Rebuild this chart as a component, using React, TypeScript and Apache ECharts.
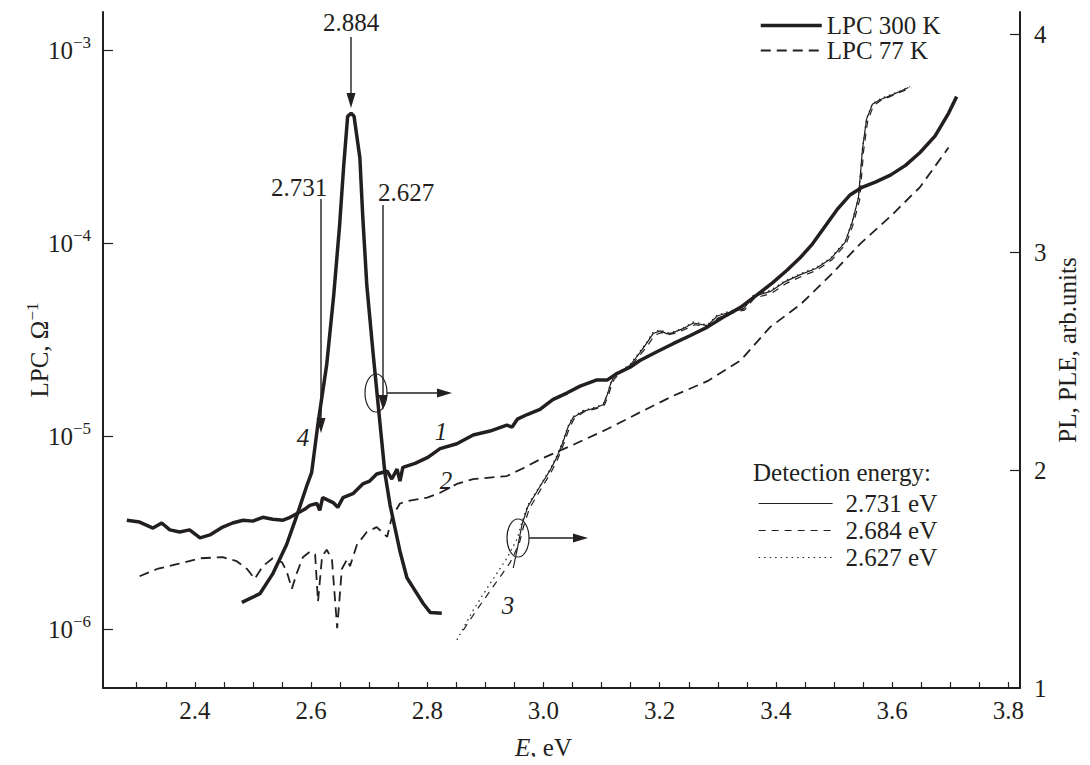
import React, { useEffect, useRef } from "react";
import * as echarts from "echarts";

const FONT = '"Liberation Serif", "Times New Roman", serif';
const INK = "#231f20";
const FS = 25;

// Curve 1: LPC 300 K (left, log axis)
const E_LPC300 = [2.283,2.305,2.328,2.343,2.357,2.374,2.391,2.409,2.426,2.448,2.465,2.483,2.5,2.517,2.534,2.552,2.564,2.576,2.589,2.598,2.61,2.615,2.62,2.638,2.646,2.655,2.672,2.689,2.701,2.713,2.731,2.739,2.748,2.753,2.758,2.779,2.801,2.822,2.851,2.879,2.908,2.937,2.946,2.955,2.973,2.994,3.016,3.041,3.063,3.092,3.11,3.127,3.149,3.166,3.196,3.223,3.252,3.282,3.309,3.339,3.368,3.394,3.419,3.442,3.463,3.485,3.507,3.528,3.549,3.571,3.597,3.623,3.648,3.674,3.697,3.711];
const V_LPC300 = [3.67e-6,3.59e-6,3.34e-6,3.55e-6,3.27e-6,3.19e-6,3.27e-6,2.97e-6,3.08e-6,3.38e-6,3.55e-6,3.67e-6,3.63e-6,3.8e-6,3.71e-6,3.67e-6,3.8e-6,3.98e-6,4.18e-6,4.38e-6,4.48e-6,4.13e-6,4.81e-6,4.53e-6,4.28e-6,4.81e-6,5.04e-6,5.66e-6,5.86e-6,6.37e-6,6.59e-6,6.0e-6,6.75e-6,5.86e-6,6.9e-6,7.24e-6,7.77e-6,8.63e-6,9.14e-6,1.016e-5,1.064e-5,1.142e-5,1.116e-5,1.226e-5,1.3e-5,1.377e-5,1.549e-5,1.68e-5,1.82e-5,1.96e-5,1.96e-5,2.12e-5,2.28e-5,2.47e-5,2.75e-5,3.02e-5,3.32e-5,3.68e-5,4.14e-5,4.66e-5,5.42e-5,6.24e-5,7.26e-5,8.45e-5,9.95e-5,1.23e-4,1.52e-4,1.79e-4,1.96e-4,2.08e-4,2.26e-4,2.54e-4,2.96e-4,3.61e-4,4.73e-4,5.77e-4];

// Curve 2: LPC 77 K (left, log axis)
const E_LPC77 = [2.305,2.335,2.369,2.409,2.448,2.472,2.49,2.503,2.517,2.534,2.55,2.558,2.567,2.576,2.586,2.598,2.607,2.612,2.619,2.627,2.636,2.645,2.653,2.662,2.667,2.679,2.696,2.713,2.731,2.739,2.753,2.77,2.8,2.822,2.851,2.879,2.937,2.965,2.994,3.051,3.11,3.166,3.223,3.282,3.339,3.39,3.442,3.494,3.545,3.597,3.648,3.697];
const V_LPC77 = [1.88e-6,2.05e-6,2.17e-6,2.33e-6,2.36e-6,2.25e-6,2.05e-6,1.82e-6,2.12e-6,2.33e-6,2.22e-6,2.0e-6,1.62e-6,1.97e-6,2.36e-6,2.52e-6,2.44e-6,1.39e-6,2.38e-6,2.58e-6,2.3e-6,1.01e-6,2.05e-6,2.3e-6,2.12e-6,2.74e-6,3.19e-6,3.38e-6,3.01e-6,3.8e-6,4.48e-6,4.64e-6,4.81e-6,5.09e-6,5.66e-6,6.0e-6,6.22e-6,6.83e-6,7.59e-6,9.03e-6,1.09e-5,1.33e-5,1.62e-5,1.93e-5,2.47e-5,3.68e-5,4.82e-5,6.85e-5,9.95e-5,1.38e-4,1.96e-4,3.14e-4];

// Curve 4: PL (right axis)
const E_PL = [2.481,2.512,2.534,2.558,2.576,2.593,2.601,2.612,2.627,2.639,2.649,2.656,2.663,2.669,2.674,2.684,2.689,2.696,2.707,2.717,2.727,2.736,2.753,2.765,2.779,2.793,2.805,2.825];
const V_PL = [1.393,1.433,1.524,1.659,1.795,1.931,1.989,2.215,2.486,2.803,3.119,3.39,3.625,3.639,3.625,3.435,3.164,2.848,2.531,2.26,1.989,1.84,1.628,1.506,1.447,1.388,1.347,1.343];

// Curve 3: PLE for three detection energies (right axis)
const E_PLE_2731 = [2.948,2.955,2.963,2.973,2.994,3.011,3.023,3.034,3.042,3.051,3.068,3.092,3.103,3.11,3.115,3.12,3.132,3.149,3.166,3.178,3.189,3.201,3.213,3.223,3.24,3.258,3.282,3.299,3.326,3.344,3.361,3.39,3.416,3.442,3.468,3.494,3.519,3.531,3.542,3.549,3.556,3.566,3.58,3.597,3.614,3.628];
const V_PLE_2731 = [1.551,1.64,1.75,1.832,1.925,1.998,2.06,2.132,2.196,2.242,2.27,2.288,2.302,2.348,2.392,2.424,2.452,2.482,2.54,2.585,2.628,2.64,2.626,2.632,2.65,2.676,2.664,2.708,2.73,2.74,2.798,2.82,2.866,2.898,2.925,2.97,3.046,3.136,3.25,3.476,3.612,3.68,3.702,3.72,3.74,3.757];
const E_PLE_2684 = [2.862,2.887,2.917,2.942,2.958,2.966,2.976,2.996,3.013,3.025,3.036,3.044,3.053,3.07,3.094,3.105,3.112,3.117,3.122,3.134,3.151,3.168,3.18,3.191,3.203,3.215,3.225,3.242,3.26,3.284,3.301,3.328,3.346,3.363,3.392,3.418,3.444,3.47,3.496,3.521,3.533,3.544,3.551,3.558,3.568,3.582,3.599,3.616,3.633];
const V_PLE_2684 = [1.266,1.366,1.479,1.573,1.66,1.745,1.825,1.915,1.99,2.055,2.128,2.19,2.238,2.268,2.285,2.3,2.345,2.39,2.42,2.45,2.48,2.535,2.575,2.62,2.632,2.622,2.628,2.645,2.668,2.66,2.7,2.725,2.735,2.79,2.812,2.858,2.89,2.918,2.965,3.04,3.13,3.24,3.47,3.605,3.675,3.7,3.718,3.738,3.755];
const E_PLE_2627 = [2.851,2.879,2.908,2.937,2.955,2.963,2.973,2.994,3.011,3.023,3.034,3.042,3.051,3.068,3.092,3.103,3.11,3.115,3.12,3.132,3.149,3.166,3.178,3.189,3.201,3.213,3.223,3.24,3.258,3.282,3.299,3.326,3.344,3.361,3.39,3.416,3.442,3.468,3.494,3.519,3.531,3.542,3.549,3.556,3.566,3.58,3.597,3.614,3.631];
const V_PLE_2627 = [1.221,1.357,1.479,1.596,1.686,1.763,1.84,1.93,2.003,2.066,2.138,2.202,2.247,2.274,2.292,2.305,2.351,2.396,2.427,2.455,2.486,2.545,2.59,2.635,2.644,2.631,2.635,2.653,2.681,2.667,2.712,2.735,2.744,2.803,2.825,2.87,2.902,2.929,2.974,3.051,3.141,3.254,3.48,3.616,3.684,3.706,3.724,3.742,3.761];

const X_LABELS = [2.4, 2.6, 2.8, 3.0, 3.2, 3.4, 3.6, 3.8];
const X_TICKS = [2.3,2.35,2.4,2.45,2.5,2.55,2.6,2.65,2.7,2.75,2.8,2.85,2.9,2.95,3.0,3.05,3.1,3.15,3.2,3.25,3.3,3.35,3.4,3.45,3.5,3.55,3.6,3.65,3.7,3.75,3.8];
const R_LABELS = [1, 2, 3, 4];
const R_TICKS = [2, 3, 4];

const zip = (xs: number[], ys: number[]) => xs.map((x, i) => [x, ys[i]]);

function arrow(x1: number, y1: number, x2: number, y2: number, len = 15, half = 4.5) {
  const ang = Math.atan2(y2 - y1, x2 - x1);
  const bx = x2 - len * Math.cos(ang);
  const by = y2 - len * Math.sin(ang);
  const px = -Math.sin(ang) * half;
  const py = Math.cos(ang) * half;
  return [
    { type: "line", silent: true, shape: { x1, y1, x2: bx, y2: by }, style: { stroke: INK, lineWidth: 1.4 } },
    { type: "polygon", silent: true, shape: { points: [[x2, y2], [bx + px, by + py], [bx - px, by - py]] }, style: { fill: INK } },
  ];
}

function txt(x: number, y: number, text: string, italic = false, align = "center") {
  return {
    type: "text", silent: true, x, y,
    style: { text, fill: INK, font: `${italic ? "italic " : ""}${FS}px ${FONT}`, textAlign: align, textVerticalAlign: "middle" },
  };
}

export default function App() {
  const ref = useRef<HTMLDivElement>(null);
  useEffect(() => {
    if (!ref.current) return;
    const chart = echarts.init(ref.current, null, { renderer: "svg" });
    const thin = { color: INK, width: 1.2 };
    const legendText = { fontSize: FS, fontFamily: FONT, color: INK };
    const option: any = {
      animation: false,
      backgroundColor: "#fff",
      textStyle: { fontFamily: FONT, color: INK },
      grid: { left: 103, right: 70, top: 12, bottom: 64 },
      legend: [
        {
          data: ["LPC 300 K", "LPC 77 K"], orient: "vertical", left: 754, top: 8,
          itemWidth: 61, itemHeight: 14, itemGap: 0, selectedMode: false,
          itemStyle: { opacity: 0 }, lineStyle: { width: "inherit" },
          textStyle: { ...legendText, padding: [0, 0, 0, 0] },
        },
        {
          data: ["2.731 eV", "2.684 eV", "2.627 eV"], orient: "vertical", left: 753, top: 486,
          itemWidth: 74, itemHeight: 14, itemGap: 2, selectedMode: false,
          itemStyle: { opacity: 0 }, lineStyle: { width: "inherit" },
          textStyle: { ...legendText, padding: [0, 0, 0, 8] },
        },
      ],
      xAxis: {
        type: "value", min: 2.242, max: 3.82,
        name: "{i|E}, eV", nameLocation: "middle", nameGap: 47, nameMoveOverlap: false,
        nameTextStyle: { fontSize: FS, fontFamily: FONT, color: INK, padding: [0, 36, 0, 0], rich: { i: { fontStyle: "italic", fontSize: FS, fontFamily: FONT, color: INK } } },
        axisLine: { lineStyle: { color: INK, width: 2 } },
        axisTick: { inside: true, length: 6, customValues: X_TICKS, lineStyle: { color: INK, width: 1.2 } },
        axisLabel: { customValues: X_LABELS, formatter: (v: number) => v.toFixed(1), fontSize: FS, fontFamily: FONT, color: INK, margin: 10 },
        splitLine: { show: false },
      },
      yAxis: [
        {
          type: "log", logBase: 10, min: 4.95e-7, max: 1.585e-3, position: "left",
          name: "LPC, Ω{s|−1}", nameLocation: "middle", nameGap: 48, nameRotate: 90, nameMoveOverlap: false,
          nameTextStyle: { fontSize: FS, fontFamily: FONT, color: INK, rich: { s: { fontSize: 17, fontFamily: FONT, color: INK, padding: [0, 0, 14, 0] } } },
          axisLine: { show: true, lineStyle: { color: INK, width: 2 } },
          axisTick: { inside: true, length: 10, lineStyle: { color: INK, width: 1.2 } },
          axisLabel: {
            showMinLabel: false, showMaxLabel: false, margin: 12,
            formatter: (v: number) => `{b|10}{s|−${-Math.round(Math.log10(v))}}`,
            rich: {
              b: { fontSize: FS, fontFamily: FONT, color: INK },
              s: { fontSize: 17, fontFamily: FONT, color: INK, padding: [0, 0, 16, 0] },
            },
          },
          splitLine: { show: false },
          minorTick: { show: false },
        },
        {
          type: "value", min: 1, max: 4.104, position: "right",
          name: "PL, PLE, arb.units", nameLocation: "middle", nameGap: 35, nameRotate: 90, nameMoveOverlap: false,
          nameTextStyle: { fontSize: FS, fontFamily: FONT, color: INK },
          axisLine: { show: true, lineStyle: { color: INK, width: 2 } },
          axisTick: { inside: true, length: 10, customValues: R_TICKS, lineStyle: { color: INK, width: 1.2 } },
          axisLabel: { customValues: R_LABELS, fontSize: FS, fontFamily: FONT, color: INK, margin: 14 },
          splitLine: { show: false },
        },
      ],
      series: [
        { name: "LPC 300 K", type: "line", yAxisIndex: 0, symbol: "none", data: zip(E_LPC300, V_LPC300), lineStyle: { color: INK, width: 3.5 }, itemStyle: { color: INK }, z: 5 },
        { name: "LPC 77 K", type: "line", yAxisIndex: 0, symbol: "none", data: zip(E_LPC77, V_LPC77), lineStyle: { color: INK, width: 1.8, type: [10, 6] }, itemStyle: { color: INK } },
        { name: "PL", type: "line", yAxisIndex: 1, symbol: "none", data: zip(E_PL, V_PL), lineStyle: { color: INK, width: 3.5 }, itemStyle: { color: INK }, z: 5 },
        { name: "2.731 eV", type: "line", yAxisIndex: 1, symbol: "none", data: zip(E_PLE_2731, V_PLE_2731), lineStyle: { ...thin }, itemStyle: { color: INK } },
        { name: "2.684 eV", type: "line", yAxisIndex: 1, symbol: "none", data: zip(E_PLE_2684, V_PLE_2684), lineStyle: { ...thin, type: [7, 6] }, itemStyle: { color: INK } },
        { name: "2.627 eV", type: "line", yAxisIndex: 1, symbol: "none", data: zip(E_PLE_2627, V_PLE_2627), lineStyle: { ...thin, type: [1.5, 4] }, itemStyle: { color: INK } },
      ],
      graphic: [
        txt(351, 22, "2.884"),
        ...arrow(351, 37, 351, 108),
        txt(299, 187, "2.731"),
        ...arrow(321, 199, 321, 433),
        txt(406, 192, "2.627"),
        ...arrow(383, 205, 383, 410),
        { type: "ellipse", silent: true, shape: { cx: 376, cy: 393, rx: 11, ry: 19 }, style: { fill: "none", stroke: INK, lineWidth: 1.2 } },
        ...arrow(387, 393, 452, 393),
        txt(303, 437, "4", true),
        txt(441, 431, "1", true),
        txt(446, 480, "2", true),
        { type: "ellipse", silent: true, shape: { cx: 518, cy: 538, rx: 11, ry: 19 }, style: { fill: "none", stroke: INK, lineWidth: 1.2 } },
        ...arrow(529, 538, 588, 538),
        txt(508, 605, "3", true),
        txt(753, 472, "Detection energy:", false, "left"),
      ],
    };
    chart.setOption(option);
    return () => chart.dispose();
  }, []);
  return <div ref={ref} style={{ width: 1090, height: 765, margin: -8 }} />;
}
